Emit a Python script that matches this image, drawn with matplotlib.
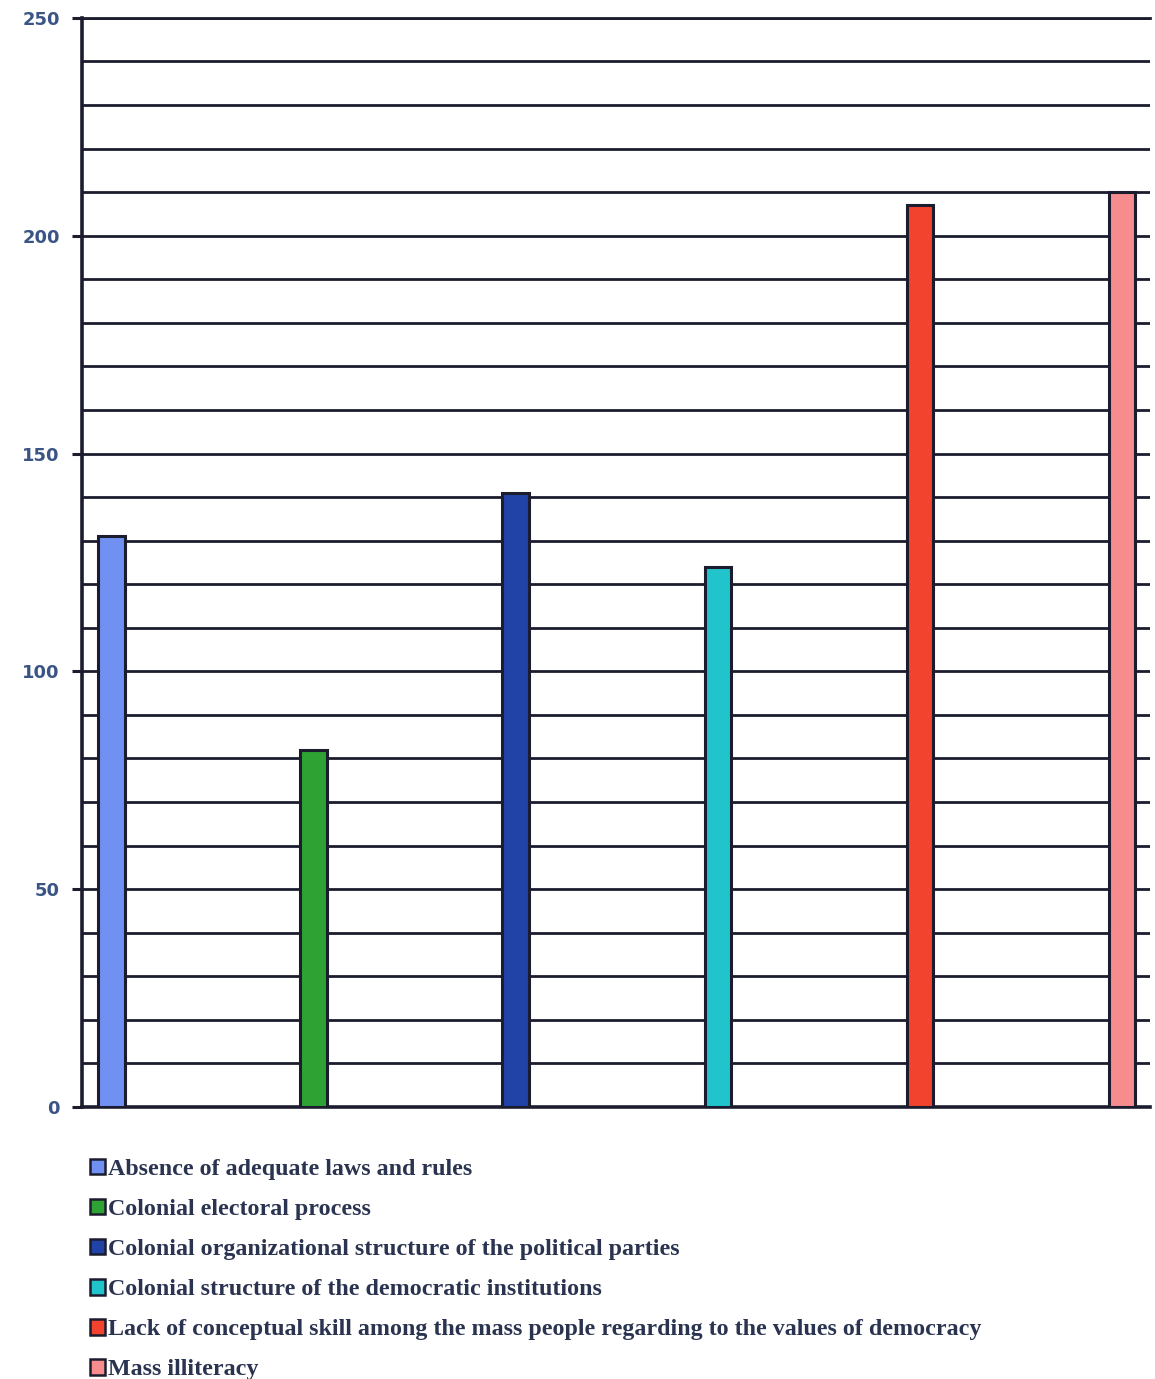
import matplotlib
matplotlib.use("Agg")
import matplotlib.pyplot as plt
from matplotlib.patches import Patch
from matplotlib.ticker import MultipleLocator

categories = [
    "Absence of adequate laws and rules",
    "Colonial electoral process",
    "Colonial organizational structure of the political parties",
    "Colonial structure of the democratic institutions",
    "Lack of conceptual skill among the mass people regarding to the values of democracy",
    "Mass illiteracy",
]
values = [131, 82, 141, 124, 207, 210]
colors = ["#7090f2", "#2ea232", "#2143a8", "#22c4cc", "#f2432f", "#f68c8e"]
y_ticks = [0, 50, 100, 150, 200, 250]

edge = "#1b1d2e"
text_color = "#2a3350"

fig = plt.figure(figsize=(11.55, 13.79), dpi=100)
ax = fig.add_axes([0.071, 0.1973, 0.9247, 0.7897])

x = list(range(len(values)))
ax.bar(x, values, width=0.13, color=colors, edgecolor=edge, linewidth=2.2, zorder=3)

ax.set_xlim(-0.146, 5.14)
ax.set_ylim(0, 250)
ax.set_yticks(y_ticks)
ax.set_yticklabels([str(v) for v in y_ticks], fontsize=13, fontweight="bold",
                   color="#3a5585", family="DejaVu Sans")
ax.yaxis.set_minor_locator(MultipleLocator(10))
ax.tick_params(axis="y", which="major", direction="out", length=7, width=2.2,
               color=edge, pad=9)
ax.tick_params(axis="y", which="minor", length=0)
ax.set_xticks([])

ax.grid(axis="y", which="both", color=edge, linewidth=2.0, zorder=1)
ax.set_axisbelow(True)
ax.spines["right"].set_visible(False)
for s in ["left", "bottom"]:
    ax.spines[s].set_color(edge)
    ax.spines[s].set_linewidth(2.6)
ax.spines["top"].set_color(edge)
ax.spines["top"].set_linewidth(2.0)

handles = [Patch(facecolor=c, edgecolor=edge, linewidth=1.8) for c in colors]
fig.legend(handles, categories, loc="upper left",
           bbox_to_anchor=(0.059, 1 - 1137 / 1379),
           frameon=False, handlelength=0.62, handleheight=0.62,
           handletextpad=0.12, labelspacing=0.785,
           prop={"family": "Liberation Serif", "weight": "bold", "size": 17.3},
           labelcolor=text_color)

fig.savefig("out.png", dpi=100, facecolor="white")
